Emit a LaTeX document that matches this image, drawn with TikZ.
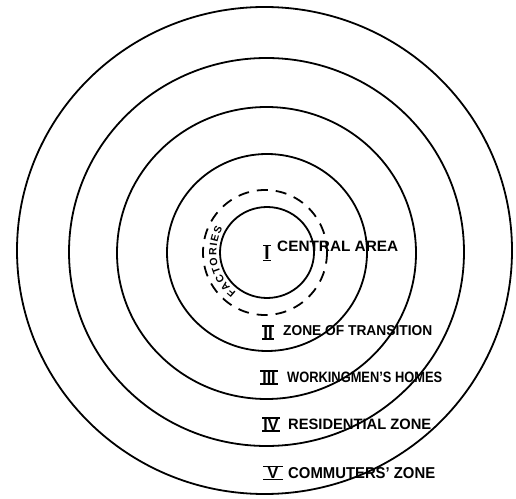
\documentclass[tikz,border=0pt]{standalone}
\usepackage{fontspec}
\setmainfont{Liberation Sans}
\usetikzlibrary{decorations.text}
\newcommand\rnum[3]{\vbox{\hrule height 1.5pt width #1pt\hbox to #1pt{\hss\fontsize{#2}{#2}\selectfont\bfseries #3\hss}\hrule height 1.5pt width #1pt}}
\newcommand\lbltext[3]{\resizebox{#1pt}{#2pt}{\bfseries #3}}
\begin{document}
\begin{tikzpicture}[x=1pt,y=1pt,
  ring/.style={line width=1.8pt},
  dashring/.style={line width=1.8pt, dash pattern=on 11pt off 8pt},
  lbl/.style={inner sep=0pt, anchor=west},
  num/.style={inner sep=0pt}]
\useasboundingbox (0,0) rectangle (516,498);
\coordinate (c) at (266,245.5);
\draw[ring] (264.5,247.5) ellipse [x radius=247.5, y radius=243.5];
\draw[ring] (266.5,246) ellipse [x radius=197.5, y radius=194];
\draw[ring] (266.5,245) ellipse [x radius=149.5, y radius=146];
\draw[ring] (267,245.5) ellipse [x radius=100, y radius=98.5];
\draw[dashring] (265,245.5) ellipse [x radius=62, y radius=62.5];
\draw[ring] (267,245.5) ellipse [x radius=47, y radius=45.5];
\path[decorate, decoration={text along path, text align={fit to path},
  text={|\fontsize{10.5}{10.5}\selectfont\bfseries|FACTORIES}}]
  (c) ++(233:49.5) arc[start angle=233, end angle=151, radius=49.5];
\node[num] (n1) at (267,245) {\rnum{8}{19}{I}};
\node[lbl] (t1) at (277,251.5) {\lbltext{121}{10.5}{CENTRAL AREA}};
\node[num] (n2) at (268,165.5) {\rnum{12}{17}{II}};
\node[lbl] (t2) at (283,167) {\lbltext{149}{10}{ZONE OF TRANSITION}};
\node[num] (n3) at (269,120.5) {\rnum{18}{16}{III}};
\node[lbl] (t3) at (287,120.5) {\lbltext{155}{10.5}{WORKINGMEN'S HOMES}};
\node[num] (n4) at (271,73.5) {\rnum{18}{16}{IV}};
\node[lbl] (t4) at (288,73.5) {\lbltext{143}{10.5}{RESIDENTIAL ZONE}};
\node[num] (n5) at (273,25) {\rnum{20}{16}{V}};
\node[lbl] (t5) at (288,25) {\lbltext{147}{11}{COMMUTERS' ZONE}};
\end{tikzpicture}
\end{document}
